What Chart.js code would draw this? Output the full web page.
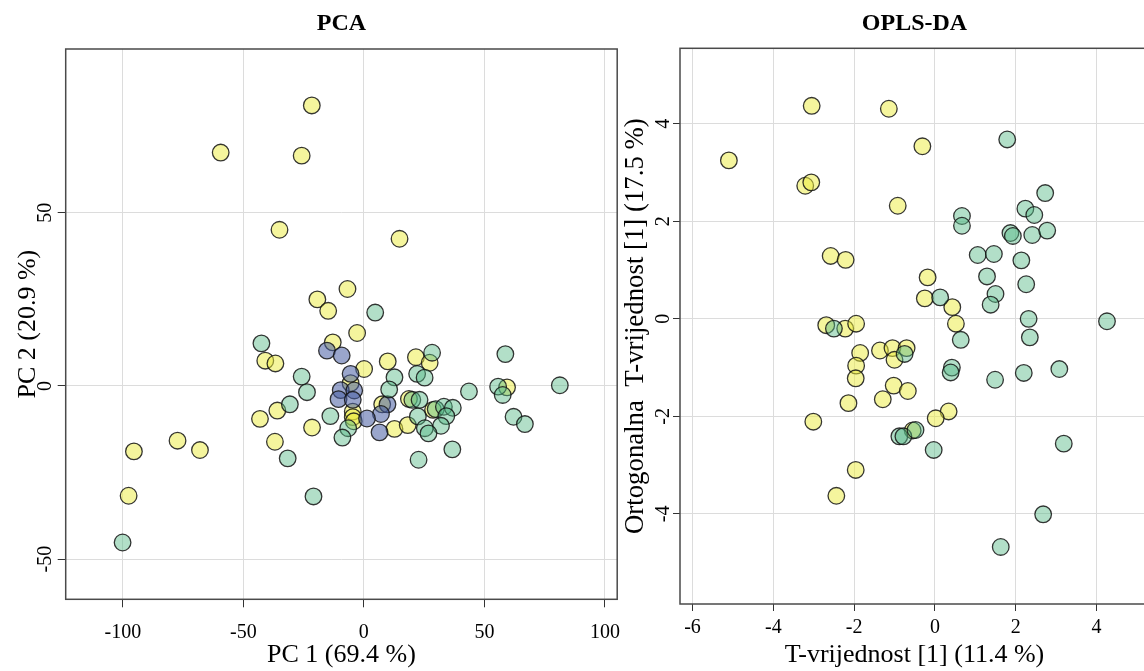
<!DOCTYPE html>
<html>
<head>
<meta charset="utf-8">
<script src="https://cdn.jsdelivr.net/npm/chart.js@4.4.1/dist/chart.umd.min.js"></script>
<style>
  html, body { margin: 0; padding: 0; background: #fff; overflow: hidden; width: 1144px; height: 671px; }
  #c1 { position: absolute; left: 0; top: 0; }
  #c2 { position: absolute; left: 620px; top: 0; }
</style>
</head>
<body>
<canvas id="c1" width="640" height="671"></canvas>
<canvas id="c2" width="560" height="671"></canvas>
<script>
// ---------- PCA data ----------
const pcaYellow = [
  [-21.6,81],[-59.4,67.4],[-25.8,66.5],[-35,45.1],[14.8,42.5],[-6.8,28],[-19.3,25],[-14.8,21.7],
  [-2.8,15.3],[-12.9,12.6],[-40.9,7.3],[-36.7,6.5],[9.9,7.1],[21.6,8.3],[27.3,6.7],[0.1,4.9],
  [-5.5,0.8],[59.4,-0.4],[-35.9,-7.1],[-43.1,-9.5],[7.6,-5.3],[-4.6,-7.4],[-4.6,-9],[-4.2,-10.2],
  [-21.5,-12],[12.7,-12.4],[18.2,-11.3],[18.7,-3.75],[28.7,-6.9],[-36.9,-16.1],[-77.3,-15.8],
  [-68,-18.5],[-95.4,-18.9],[-97.6,-31.7]
];
const pcaGreen = [
  [4.7,21.2],[-42.5,12.3],[28.3,9.6],[58.7,9.2],[-25.8,2.7],[12.7,2.5],[22.1,3.5],[25.2,2.4],
  [-23.6,-1.8],[10.5,-1],[43.6,-1.6],[55.7,-0.2],[57.6,-2.6],[81.3,0.2],[-30.7,-5.3],[-13.9,-8.7],
  [-6.5,-12.2],[-8.9,-14.9],[20.1,-4],[23.1,-4],[22.4,-8.8],[29.8,-6.7],[33.2,-6],[36.9,-6.3],
  [34.2,-8.7],[32,-11.5],[25.3,-12.2],[26.8,-13.7],[62.1,-8.9],[66.8,-11],[36.7,-18.3],
  [22.7,-21.3],[-31.6,-20.9],[-20.9,-31.9],[-100.1,-45.2]
];
const pcaBlue = [
  [-15.3,10.2],[-9.2,8.8],[-5.5,3.5],[-9.6,-1.2],[-4,-1.3],[-10.5,-3.8],[-4.6,-4],
  [9.8,-5.3],[7.1,-8.1],[1.3,-9.4],[6.5,-13.4]
];
const pcaXTicks = [-100, -50, 0, 50, 100];
const pcaYTicks = [-50, 0, 50];

// ---------- OPLS-DA data ----------
const oplsYellow = [
  [-5.1,3.25],[-3.05,4.37],[-1.14,4.31],[-0.31,3.54],[-3.21,2.73],[-3.06,2.8],[-0.92,2.32],
  [-2.58,1.29],[-2.21,1.21],[-0.18,0.85],[-0.25,0.42],[0.43,0.24],[0.52,-0.1],[-2.69,-0.13],
  [-2.22,-0.2],[-1.95,-0.1],[-1.85,-0.7],[-1.36,-0.65],[-1.05,-0.6],[-0.7,-0.6],[-1,-0.84],
  [-1.95,-0.96],[-1.96,-1.22],[-1.02,-1.37],[-0.67,-1.48],[-1.29,-1.65],[-2.14,-1.73],
  [0.34,-1.9],[0.02,-2.04],[-3.01,-2.11],[-0.55,-2.29],[-1.96,-3.1],[-2.44,-3.63]
];
const oplsGreen = [
  [1.79,3.68],[2.73,2.58],[0.67,2.11],[0.67,1.91],[2.24,2.26],[2.46,2.13],[1.87,1.76],[1.93,1.7],
  [2.41,1.72],[2.78,1.81],[1.06,1.31],[1.46,1.33],[2.14,1.2],[1.29,0.87],[2.26,0.71],[0.13,0.44],
  [1.5,0.51],[1.38,0.29],[2.32,0],[4.26,-0.05],[-2.5,-0.2],[0.64,-0.43],[2.35,-0.38],[-0.75,-0.72],
  [0.42,-1.0],[0.39,-1.1],[2.2,-1.11],[3.08,-1.03],[1.49,-1.25],[-0.88,-2.41],[-0.78,-2.41],
  [-0.48,-2.28],[-0.03,-2.69],[3.19,-2.56],[2.68,-4.01],[1.63,-4.68]
];
const oplsXTicks = [-6, -4, -2, 0, 2, 4];
const oplsYTicks = [-4, -2, 0, 2, 4];

// ---------- styles ----------
const SERIF = "'Liberation Serif', 'Times New Roman', serif";
const YELLOW = 'rgba(236,236,60,0.5)';
const GREEN = 'rgba(84,184,133,0.45)';
const BLUE = 'rgba(71,93,162,0.55)';
const EDGE = 'rgba(20,20,20,0.85)';

const toPts = arr => arr.map(p => ({x: p[0], y: p[1]}));

function ds(arr, color) {
  return {
    data: toPts(arr),
    backgroundColor: color,
    borderColor: EDGE,
    borderWidth: 1.3,
    pointRadius: 8.3,
    pointHoverRadius: 8.3
  };
}

const boxPlugin = {
  id: 'box',
  afterDraw(chart) {
    const {ctx, chartArea: a} = chart;
    ctx.save();
    ctx.strokeStyle = '#4a4a4a';
    ctx.lineWidth = 1.5;
    ctx.strokeRect(a.left, a.top, a.right - a.left, a.bottom - a.top);
    ctx.restore();
  }
};

function makeChart(id, cfg) {
  return new Chart(document.getElementById(id), {
    type: 'scatter',
    data: { datasets: cfg.datasets },
    options: {
      responsive: false,
      animation: false,
      devicePixelRatio: 1,
      layout: { padding: { left: 0, right: cfg.padRight, top: 0, bottom: 0 } },
      plugins: {
        legend: { display: false },
        tooltip: { enabled: false },
        title: {
          display: true,
          text: cfg.title,
          fullSize: false,
          color: '#000',
          font: { family: SERIF, size: 24, weight: 'bold', lineHeight: 1.2 },
          padding: { top: cfg.titlePadTop, bottom: cfg.titlePadBottom }
        }
      },
      scales: {
        x: {
          type: 'linear',
          min: cfg.xMin, max: cfg.xMax,
          afterBuildTicks: s => { s.ticks = cfg.xTicks.map(v => ({value: v})); },
          afterFit: s => { s.height = cfg.xHeight; },
          border: { display: false },
          grid: { color: '#dcdcdc', lineWidth: 1, tickColor: '#333', tickLength: cfg.tickLen, drawTicks: true },
          ticks: { color: '#000', font: { family: SERIF, size: 20 }, padding: cfg.xTickPad, maxRotation: 0, minRotation: 0,
                   callback: v => String(v) },
          title: { display: true, text: cfg.xTitle, color: '#000',
                   font: { family: SERIF, size: 26, lineHeight: 1.2 }, padding: { top: 0, bottom: 0 } }
        },
        y: {
          type: 'linear',
          min: cfg.yMin, max: cfg.yMax,
          afterBuildTicks: s => { s.ticks = cfg.yTicks.map(v => ({value: v})); },
          afterFit: s => { s.width = cfg.yWidth; },
          border: { display: false },
          grid: { color: '#dcdcdc', lineWidth: 1, tickColor: '#333', tickLength: cfg.tickLen, drawTicks: true },
          ticks: { color: '#000', font: { family: SERIF, size: 20 }, padding: cfg.yTickPad, minRotation: 90, maxRotation: 90,
                   crossAlign: 'center', callback: v => String(v) },
          title: { display: true, text: cfg.yTitle, color: '#000',
                   font: { family: SERIF, size: cfg.yTitleSize, lineHeight: 1.2 }, padding: { top: cfg.yTitlePad, bottom: 0 } }
        }
      }
    },
    plugins: [boxPlugin]
  });
}

makeChart('c1', {
  title: 'PCA',
  datasets: [ds(pcaGreen, GREEN), ds(pcaBlue, BLUE), ds(pcaYellow, YELLOW)],
  xMin: -123.7, xMax: 105.1, yMin: -61.6, yMax: 97.3,
  xTicks: pcaXTicks, yTicks: pcaYTicks,
  padRight: 640 - 617.2,
  titlePadTop: 9.3, titlePadBottom: 10.9,
  xHeight: 71.7, yWidth: 65.7,
  tickLen: 8, xTickPad: 13, yTickPad: -1.6, yTitlePad: 12.4, yTitleSize: 26,
  xTitle: 'PC 1 (69.4 %)', yTitle: 'PC 2 (20.9 %)'
});

makeChart('c2', {
  title: 'OPLS-DA',
  datasets: [ds(oplsGreen, GREEN), ds(oplsYellow, YELLOW)],
  xMin: -6.31, xMax: 5.3, yMin: -5.85, yMax: 5.55,
  xTicks: oplsXTicks, yTicks: oplsYTicks,
  padRight: 560 - (1149 - 620),
  titlePadTop: 9.3, titlePadBottom: 10.2,
  xHeight: 67, yWidth: 60,
  tickLen: 7, xTickPad: 5, yTickPad: 0.7, yTitlePad: 0, yTitleSize: 26.8,
  xTitle: 'T-vrijednost [1] (11.4 %)', yTitle: 'Ortogonalna  T-vrijednost [1] (17.5 %)'
});
</script>
</body>
</html>
